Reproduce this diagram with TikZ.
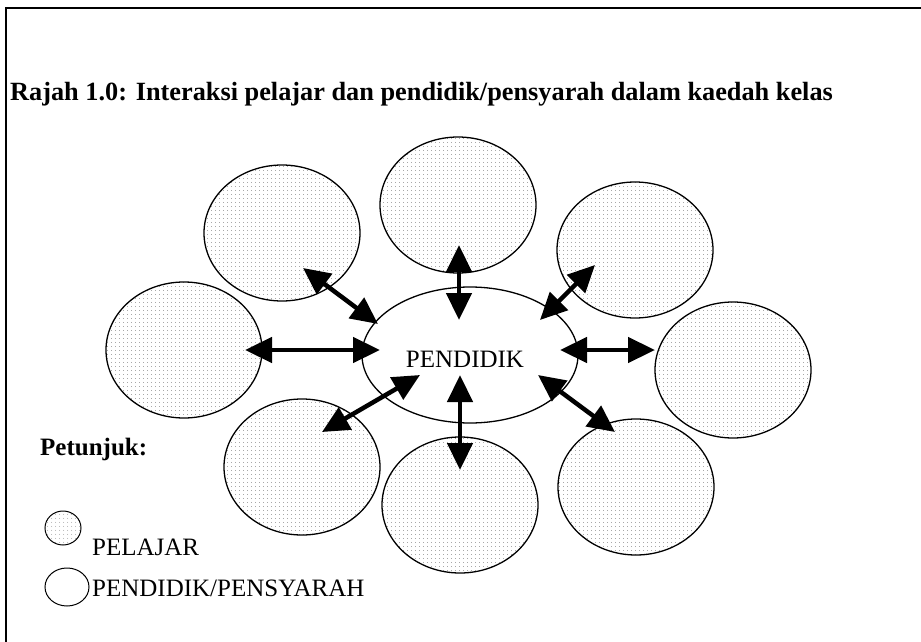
\documentclass[tikz,border=0pt]{standalone}
\usepackage{fontspec}
\setmainfont{Liberation Serif}
\usepackage{tikz}
\usetikzlibrary{calc}
\usetikzlibrary{arrows.meta}
\usetikzlibrary{shapes.geometric}
\usetikzlibrary{patterns.meta}

\begin{document}
\begin{tikzpicture}[x=1pt, y=-1pt,
        pelajar/.style={draw, line width=1.3pt, ellipse, inner sep=0pt, minimum width=156pt, minimum height=136pt,
            pattern={Dots[distance=4pt, radius=0.45pt]}, pattern color=black!60},
        pendidik/.style={draw, line width=1.3pt, ellipse, inner sep=0pt, minimum width=216pt, minimum height=136pt},
        interaksi/.style={line width=4.5pt, {Triangle[length=27pt, width=25pt]}-{Triangle[length=27pt, width=25pt]}},
        teks/.style={font=\fontsize{25}{30}\selectfont, inner sep=0pt}]
        \useasboundingbox (0,0) rectangle (921,642);
        \draw[line width=1.2pt] (6,642) -- (6,8) -- (921,8);
        \node[teks, anchor=base west, font=\fontsize{26.3}{30}\selectfont\bfseries] (tajuk) at (10,100) {Rajah 1.0: Interaksi pelajar dan pendidik/pensyarah dalam kaedah kelas};
        \node[pendidik] (guru) at (470,355) {};
        \node[teks, anchor=base] (nama) at (465,367) {PENDIDIK};
        \node[pelajar] (p1) at (458,205) {};
        \node[pelajar] (p2) at (635,250) {};
        \node[pelajar] (p3) at (733,370) {};
        \node[pelajar] (p4) at (636,487) {};
        \node[pelajar] (p5) at (460,505) {};
        \node[pelajar] (p6) at (302,467) {};
        \node[pelajar] (p7) at (184,350) {};
        \node[pelajar] (p8) at (282,233) {};
        \coordinate (g1) at (459,320);
        \coordinate (s1) at (459,245);
        \coordinate (g2) at (540,320);
        \coordinate (s2) at (595,265);
        \coordinate (g3) at (560,350);
        \coordinate (s3) at (655,350);
        \coordinate (g4) at (538,375);
        \coordinate (s4) at (615,432);
        \coordinate (g5) at (460,375);
        \coordinate (s5) at (460,470);
        \coordinate (g6) at (420,375);
        \coordinate (s6) at (322,432);
        \coordinate (g7) at (380,350);
        \coordinate (s7) at (245,350);
        \coordinate (g8) at (378,324);
        \coordinate (s8) at (303,268);
        \draw[interaksi] (g1) -- (s1);
        \draw[interaksi] (g2) -- (s2);
        \draw[interaksi] (g3) -- (s3);
        \draw[interaksi] (g4) -- (s4);
        \draw[interaksi] (g5) -- (s5);
        \draw[interaksi] (g6) -- (s6);
        \draw[interaksi] (g7) -- (s7);
        \draw[interaksi] (g8) -- (s8);
        \node[teks, anchor=base west, font=\fontsize{25}{30}\selectfont\bfseries] (petunjuk) at (40,455) {Petunjuk:};
        \node[pelajar, minimum width=36pt, minimum height=34pt, line width=1pt] (kp) at (63,528) {};
        \node[teks, anchor=base west] (lp) at (92,555) {PELAJAR};
        \node[pendidik, minimum width=44pt, minimum height=38pt, line width=1pt] (kg) at (67,587) {};
        \node[teks, anchor=base west] (lg) at (92,596) {PENDIDIK/PENSYARAH};
    \end{tikzpicture}
\end{document}
